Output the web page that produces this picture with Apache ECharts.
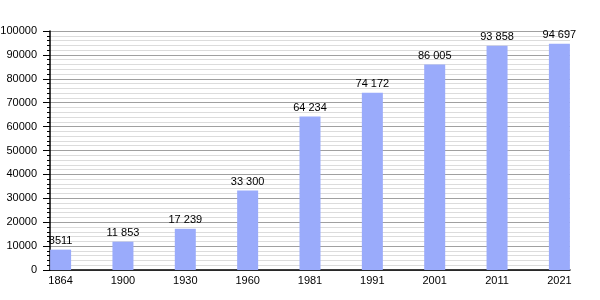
<!DOCTYPE html>
<html><head><meta charset="utf-8">
<script src="https://cdn.jsdelivr.net/npm/echarts@6/dist/echarts.min.js"></script>
<style>html,body{margin:0;padding:0;background:#fff}#c{width:600px;height:300px}</style>
</head><body><div id="c"></div>
<script>
const years = ['1864','1900','1930','1960','1981','1991','2001','2011','2021'];
const population = [8511, 11853, 17239, 33300, 64234, 74172, 86005, 93858, 94697];
const valueLabels = ['8511','11 853','17 239','33 300','64 234','74 172','86 005','93 858','94 697'];

const chart = echarts.init(document.getElementById('c'), null, {renderer:'canvas'});
const font = 'Liberation Sans, Arial, sans-serif';
chart.setOption({
  animation:false,
  grid:{left:50, right:30, top:31, bottom:30, containLabel:false, outerBoundsMode:'none'},
  xAxis:{
    type:'value', min:-0.17, max:8.17,
    axisLine:{show:true, onZero:false, lineStyle:{color:'#000', width:1.5}},
    axisTick:{show:false},
    splitLine:{show:false},
    axisLabel:{customValues:years.map((y,i)=>i), formatter:v=>years[Math.round(v)], color:'#000', fontSize:11, fontFamily:font, margin:5}
  },
  yAxis:{
    type:'value', min:0, max:100000, interval:10000,
    axisLine:{show:true, onZero:false, lineStyle:{color:'#000', width:1.5}},
    axisTick:{show:true, length:7, lineStyle:{color:'#000'}},
    minorTick:{show:true, splitNumber:5, length:3, lineStyle:{color:'#000'}},
    splitLine:{show:true, lineStyle:{color:'#a0a0a0', width:1}},
    minorSplitLine:{show:true, lineStyle:{color:'#dcdcdc', width:1}},
    axisLabel:{color:'#000', fontSize:11, fontFamily:font, margin:13, formatter:v=>String(v)}
  },
  series:[{
    type:'bar',
    barWidth:21,
    data:population.map((v,i)=>[i,v]),
    itemStyle:{color:'#9aabfb'},
    label:{show:true, position:'top', distance:3, color:'#000', fontSize:11, fontFamily:font,
      formatter:p=>valueLabels[p.dataIndex]}
  }]
});
</script></body></html>
